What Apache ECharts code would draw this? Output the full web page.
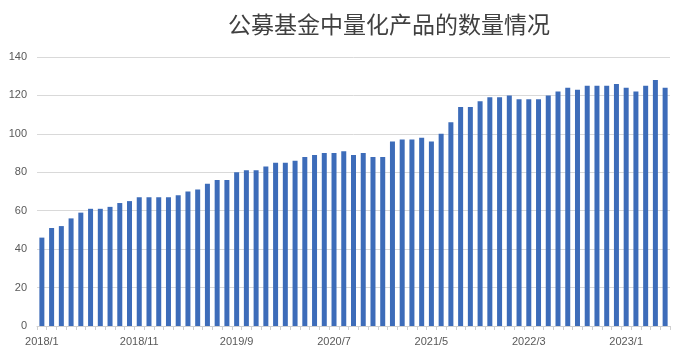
<!DOCTYPE html>
<html>
<head>
<meta charset="utf-8">
<script src="https://cdn.jsdelivr.net/npm/echarts@6/dist/echarts.min.js"></script>
<style>html,body{margin:0;padding:0;background:#fff}#c{width:700px;height:360px}</style>
</head>
<body>
<div id="c"></div>
<script>
const titleText = '公募基金中量化产品的数量情况';
const startYear = 2018, startMonth = 1, monthCount = 65;
const categories = [];
for (let i = 0; i < monthCount; i++) {
  const m = startMonth - 1 + i;
  categories.push((startYear + Math.floor(m / 12)) + '/' + (m % 12 + 1));
}
const counts = [
  46, 51, 52, 56, 59, 61, 61, 62, 64, 65,
  67, 67, 67, 67, 68, 70, 71, 74, 76, 76,
  80, 81, 81, 83, 85, 85, 86, 88, 89, 90,
  90, 91, 89, 90, 88, 88, 96, 97, 97, 98,
  96, 100, 106, 114, 114, 117, 119, 119, 120, 118,
  118, 118, 120, 122, 124, 123, 125, 125, 125, 126,
  124, 122, 125, 128, 124
];
const yTicks = [0, 20, 40, 60, 80, 100, 120, 140];

const chart = echarts.init(document.getElementById('c'), null, {renderer: 'canvas'});
chart.setOption({
  backgroundColor: '#ffffff',
  animation: false,
  title: {
    text: titleText,
    left: 384, top: 8, textAlign: 'center',
    textStyle: {fontFamily: 'Noto Sans CJK SC', fontSize: 23, fontWeight: 'normal', color: '#404040'}
  },
  grid: {left: 37, right: 30, top: 57, bottom: 34, containLabel: false},
  xAxis: {
    type: 'category',
    data: categories,
    boundaryGap: true,
    axisLine: {lineStyle: {color: '#d0d0d0'}},
    axisTick: {show: true, interval: 0, length: 4, lineStyle: {color: '#d0d0d0'}},
    axisLabel: {interval: 9, color: '#595959', fontSize: 11, fontFamily: 'Liberation Sans', margin: 10}
  },
  yAxis: {
    type: 'value',
    min: yTicks[0], max: yTicks[yTicks.length - 1], interval: 20,
    axisLine: {show: false},
    axisTick: {show: false},
    axisLabel: {color: '#595959', fontSize: 11, fontFamily: 'Liberation Sans', margin: 10},
    splitLine: {lineStyle: {color: '#d9d9d9', width: 1}}
  },
  series: [{
    type: 'bar',
    data: counts,
    barWidth: 5,
    itemStyle: {color: '#3d6cb9'}
  }]
});
</script>
</body>
</html>
